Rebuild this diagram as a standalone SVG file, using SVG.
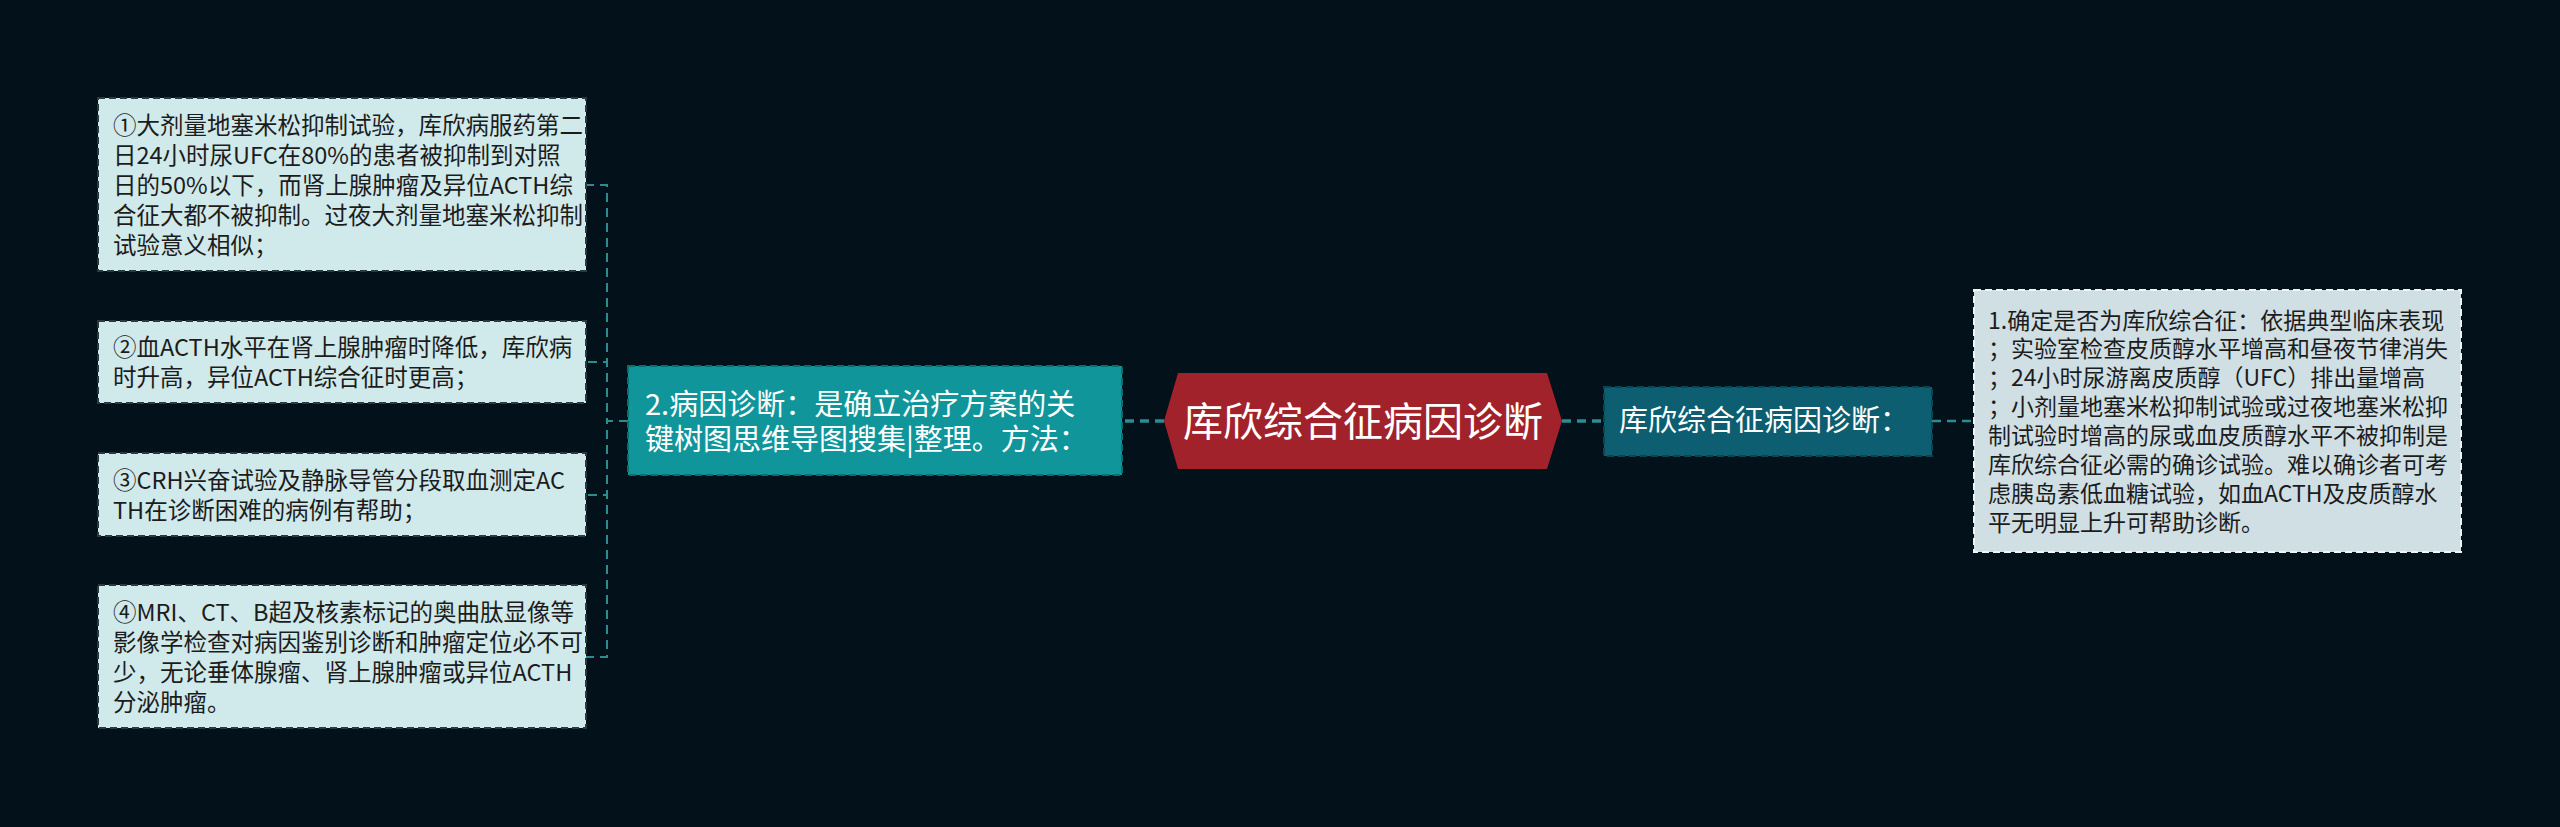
<svg xmlns="http://www.w3.org/2000/svg" width="2560" height="827" viewBox="0 0 2560 827">
<style>
.bg{fill:#03111a}
.leaf{fill:#d0e9ea;stroke:#2a3a40;stroke-width:2;stroke-dasharray:7 4}
.leafR{fill:#cfdfe4;stroke:#eef4f6;stroke-width:2;stroke-dasharray:7 4}
.t{font-family:"Noto Sans CJK SC","Noto Sans",sans-serif;fill:#1c1c1c}
.lt{font-size:23.5px}
.rt{font-size:23px}
.w{font-family:"Noto Sans CJK SC","Noto Sans",sans-serif;fill:#ffffff}
.conn{fill:none;stroke:#2c8c92;stroke-dasharray:9 6}
</style>
<rect class="bg" x="0" y="0" width="2560" height="827"/>
<g id="connectors">
<path class="conn" stroke-width="2" d="M628 421 H607 V185 H586"/>
<path class="conn" stroke-width="2" d="M628 421 H607 V362 H586"/>
<path class="conn" stroke-width="2" d="M628 421 H607 V495 H586"/>
<path class="conn" stroke-width="2" d="M628 421 H607 V657 H586"/>
<path class="conn" stroke-width="3.5" d="M1164 421 H1122"/>
<path class="conn" stroke-width="3.5" d="M1562 421 H1604"/>
<path class="conn" stroke-width="2.5" d="M1932 421 H1974"/>
</g>
<g id="center">
<polygon points="1164,421 1178,373 1547,373 1562,421 1547,469 1178,469" fill="#a2222b"/>
<text class="w" x="1363" y="436" font-size="40" text-anchor="middle">库欣综合征病因诊断</text>
</g>
<g id="node-left-main">
<rect x="628" y="366" width="494" height="109" fill="#10969a" stroke="#0b6e70" stroke-width="2" stroke-dasharray="7 4"/>
<text class="w" font-size="29"><tspan x="645" y="415">2.病因诊断：是确立治疗方案的关</tspan><tspan x="645" y="450">键树图思维导图搜集|整理。方法：</tspan></text>
</g>
<g id="node-right-main">
<rect x="1604" y="387" width="328" height="69" fill="#0c5e70" stroke="#094654" stroke-width="2" stroke-dasharray="7 4"/>
<text class="w" font-size="29" x="1619" y="431">库欣综合征病因诊断：</text>
</g>
<g id="leaf1">
<rect class="leaf" x="98" y="98" width="488" height="173"/>
<text class="t lt"><tspan x="113" y="133.5">①大剂量地塞米松抑制试验，库欣病服药第二</tspan><tspan x="113" y="163.5">日24小时尿UFC在80%的患者被抑制到对照</tspan><tspan x="113" y="193.5">日的50%以下，而肾上腺肿瘤及异位ACTH综</tspan><tspan x="113" y="223.5">合征大都不被抑制。过夜大剂量地塞米松抑制</tspan><tspan x="113" y="253.5">试验意义相似；</tspan></text>
</g>
<g id="leaf2">
<rect class="leaf" x="98" y="321" width="488" height="82"/>
<text class="t lt"><tspan x="113" y="356">②血ACTH水平在肾上腺肿瘤时降低，库欣病</tspan><tspan x="113" y="386">时升高，异位ACTH综合征时更高；</tspan></text>
</g>
<g id="leaf3">
<rect class="leaf" x="98" y="453" width="488" height="83"/>
<text class="t lt"><tspan x="113" y="488.5">③CRH兴奋试验及静脉导管分段取血测定AC</tspan><tspan x="113" y="518.5">TH在诊断困难的病例有帮助；</tspan></text>
</g>
<g id="leaf4">
<rect class="leaf" x="98" y="585" width="488" height="143"/>
<text class="t lt"><tspan x="113" y="620.5">④MRI、CT、B超及核素标记的奥曲肽显像等</tspan><tspan x="113" y="650.5">影像学检查对病因鉴别诊断和肿瘤定位必不可</tspan><tspan x="113" y="680.5">少，无论垂体腺瘤、肾上腺肿瘤或异位ACTH</tspan><tspan x="113" y="710.5">分泌肿瘤。</tspan></text>
</g>
<g id="leaf-right">
<rect class="leafR" x="1974" y="290" width="487" height="262"/>
<text class="t rt"><tspan x="1988" y="328.5">1.确定是否为库欣综合征：依据典型临床表现</tspan><tspan x="1988" y="357.4">；实验室检查皮质醇水平增高和昼夜节律消失</tspan><tspan x="1988" y="386.3">；24小时尿游离皮质醇（UFC）排出量增高</tspan><tspan x="1988" y="415.2">；小剂量地塞米松抑制试验或过夜地塞米松抑</tspan><tspan x="1988" y="444.1">制试验时增高的尿或血皮质醇水平不被抑制是</tspan><tspan x="1988" y="473">库欣综合征必需的确诊试验。难以确诊者可考</tspan><tspan x="1988" y="501.9">虑胰岛素低血糖试验，如血ACTH及皮质醇水</tspan><tspan x="1988" y="530.8">平无明显上升可帮助诊断。</tspan></text>
</g>
</svg>
